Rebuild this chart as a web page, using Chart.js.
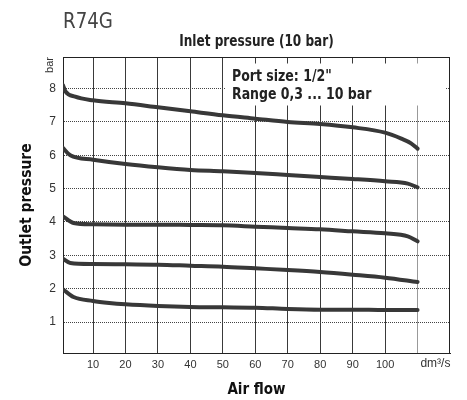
<!DOCTYPE html>
<html>
<head>
<meta charset="utf-8">
<script src="https://cdn.jsdelivr.net/npm/chart.js@4/dist/chart.umd.min.js"></script>
<style>
  html, body { margin: 0; padding: 0; background: #fff; }
  #wrap { width: 467px; height: 400px; }
</style>
</head>
<body>
<div id="wrap"><canvas id="c" width="467" height="400"></canvas></div>
<script>
// ---- data ----
const xTicks = [10, 20, 30, 40, 50, 60, 70, 80, 90, 100, 110];
const yTicks = [1, 2, 3, 4, 5, 6, 7, 8];

const flow8 = [0.75, 1.5, 4.5, 10, 20, 30, 40, 50, 60, 70, 80, 90, 100, 105, 108, 110];
const out8  = [8.10, 7.92, 7.76, 7.65, 7.56, 7.44, 7.32, 7.20, 7.10, 7.00, 6.94, 6.84, 6.68, 6.50, 6.36, 6.20];

const flow6 = [0.75, 3, 10, 20, 30, 40, 50, 60, 70, 80, 90, 100, 107, 110];
const out6  = [6.22, 6.00, 5.87, 5.74, 5.64, 5.56, 5.52, 5.47, 5.41, 5.35, 5.29, 5.22, 5.15, 5.04];

const flow4 = [0.75, 4, 10, 20, 30, 40, 50, 60, 70, 80, 90, 100, 107, 110];
const out4  = [4.17, 3.97, 3.93, 3.92, 3.92, 3.91, 3.90, 3.86, 3.82, 3.78, 3.72, 3.66, 3.57, 3.42];

const flow3 = [0.75, 3, 10, 20, 30, 40, 50, 60, 70, 80, 90, 100, 110];
const out3  = [2.90, 2.77, 2.74, 2.73, 2.72, 2.69, 2.66, 2.61, 2.56, 2.50, 2.42, 2.33, 2.20];

const flow2 = [0.75, 4, 10, 15, 20, 30, 40, 50, 60, 70, 80, 90, 100, 110];
const out2  = [1.98, 1.75, 1.63, 1.57, 1.53, 1.48, 1.45, 1.44, 1.43, 1.39, 1.37, 1.37, 1.36, 1.36];

const seriesFlows = [flow8, flow6, flow4, flow3, flow2];
const seriesOuts  = [out8, out6, out4, out3, out2];

const titleText = 'R74G';
const subtitleText = 'Inlet pressure (10 bar)';
const xTitle = 'Air flow';
const yTitle = 'Outlet pressure';
const xUnit = 'dm³/s';
const yUnit = 'bar';
const noteLines = ['Port size: 1/2"', 'Range 0,3 ... 10 bar'];

// ---- chart ----
const NARROW = '"Liberation Sans Narrow", "DejaVu Sans Condensed", Roboto, sans-serif';
const SANS = '"Liberation Sans", Arial, sans-serif';
const INK = '#333';

const datasets = seriesFlows.map((fl, i) => ({
  data: fl.map((x, j) => ({ x: x, y: seriesOuts[i][j] })),
  borderColor: '#383838',
  borderWidth: 4,
  pointRadius: 0,
  fill: false,
  cubicInterpolationMode: 'monotone',
  borderCapStyle: 'round'
}));

// draw text squeezed horizontally to mimic a condensed face
function squeezed(ctx, text, x, y, sx, align) {
  ctx.save();
  ctx.translate(x, y);
  ctx.scale(sx, 1);
  ctx.textAlign = align;
  ctx.fillText(text, 0, 0);
  ctx.restore();
}

const decor = {
  id: 'decor',
  beforeDatasetsDraw(chart) {
    const { ctx, chartArea: a } = chart;
    ctx.save();
    // white note box covering grid
    ctx.fillStyle = '#fff';
    ctx.fillRect(a.left + 163, a.top + 6.5, 219, 42);
    // frame
    ctx.strokeStyle = '#222';
    ctx.lineWidth = 1;
    ctx.strokeRect(a.left + 0.5, a.top + 0.5, a.right - a.left - 1, a.bottom - a.top);
    // note text
    ctx.fillStyle = '#222';
    ctx.font = 'bold 16px ' + NARROW;
    ctx.textBaseline = 'middle';
    squeezed(ctx, noteLines[0], a.left + 169, a.top + 20, 0.87, 'left');
    squeezed(ctx, noteLines[1], a.left + 169, a.top + 38, 0.87, 'left');
    ctx.restore();
  },
  afterDraw(chart) {
    const { ctx, chartArea: a, scales } = chart;
    ctx.save();
    ctx.textBaseline = 'middle';
    ctx.fillStyle = '#444';
    ctx.font = '22px ' + NARROW;
    squeezed(ctx, titleText, a.left, 22, 0.92, 'left');
    ctx.fillStyle = '#222';
    ctx.font = 'bold 16px ' + NARROW;
    squeezed(ctx, subtitleText, (a.left + a.right) / 2, 42, 0.84, 'center');
    // x unit
    ctx.fillStyle = INK;
    ctx.font = '12px ' + SANS;
    ctx.textAlign = 'center';
    ctx.fillText(xUnit, scales.x.getPixelForValue(115.5), a.bottom + 11);
    // y unit (rotated)
    ctx.font = '11px ' + SANS;
    ctx.translate(a.left - 13, a.top + 8);
    ctx.rotate(-Math.PI / 2);
    ctx.textAlign = 'center';
    ctx.fillText(yUnit, 0, 0);
    ctx.restore();
  }
};

new Chart(document.getElementById('c'), {
  type: 'line',
  data: { datasets },
  options: {
    responsive: false,
    animation: false,
    events: [],
    layout: { padding: { top: 57, right: 17, left: 0, bottom: 0 } },
    plugins: { legend: { display: false }, tooltip: { enabled: false } },
    scales: {
      x: {
        type: 'linear',
        min: 0.75,
        max: 120,
        afterBuildTicks: (s) => { s.ticks = xTicks.map(v => ({ value: v })); },
        afterFit: (s) => { s.height = 47; },
        ticks: {
          autoSkip: false,
          maxRotation: 0,
          padding: 5,
          color: INK,
          font: { family: SANS, size: 11 },
          callback: (v) => (v === 110 ? '' : String(v))
        },
        grid: {
          drawTicks: false,
          color: (c) => (c.tick && c.tick.value === 110 ? '#999' : '#3a3a3a'),
          lineWidth: 1
        },
        border: { display: true, color: '#222', width: 1 },
        title: {
          display: true,
          text: xTitle,
          color: '#111',
          font: { family: NARROW, size: 15, weight: 'bold' },
          padding: { top: 0, bottom: 1 }
        }
      },
      y: {
        type: 'linear',
        min: 0.07,
        max: 8.95,
        afterBuildTicks: (s) => { s.ticks = yTicks.map(v => ({ value: v })); },
        afterFit: (s) => { s.width = 63; },
        ticks: {
          padding: 7,
          color: INK,
          font: { family: SANS, size: 12 }
        },
        grid: {
          drawTicks: false,
          color: '#444',
          lineWidth: 1
        },
        border: { display: true, color: '#222', width: 1, dash: [1, 1] },
        title: {
          display: true,
          text: yTitle,
          color: '#111',
          font: { family: NARROW, size: 15.5, weight: 'bold' },
          padding: { top: 18, bottom: 0 }
        }
      }
    }
  },
  plugins: [decor]
});
</script>
</body>
</html>
